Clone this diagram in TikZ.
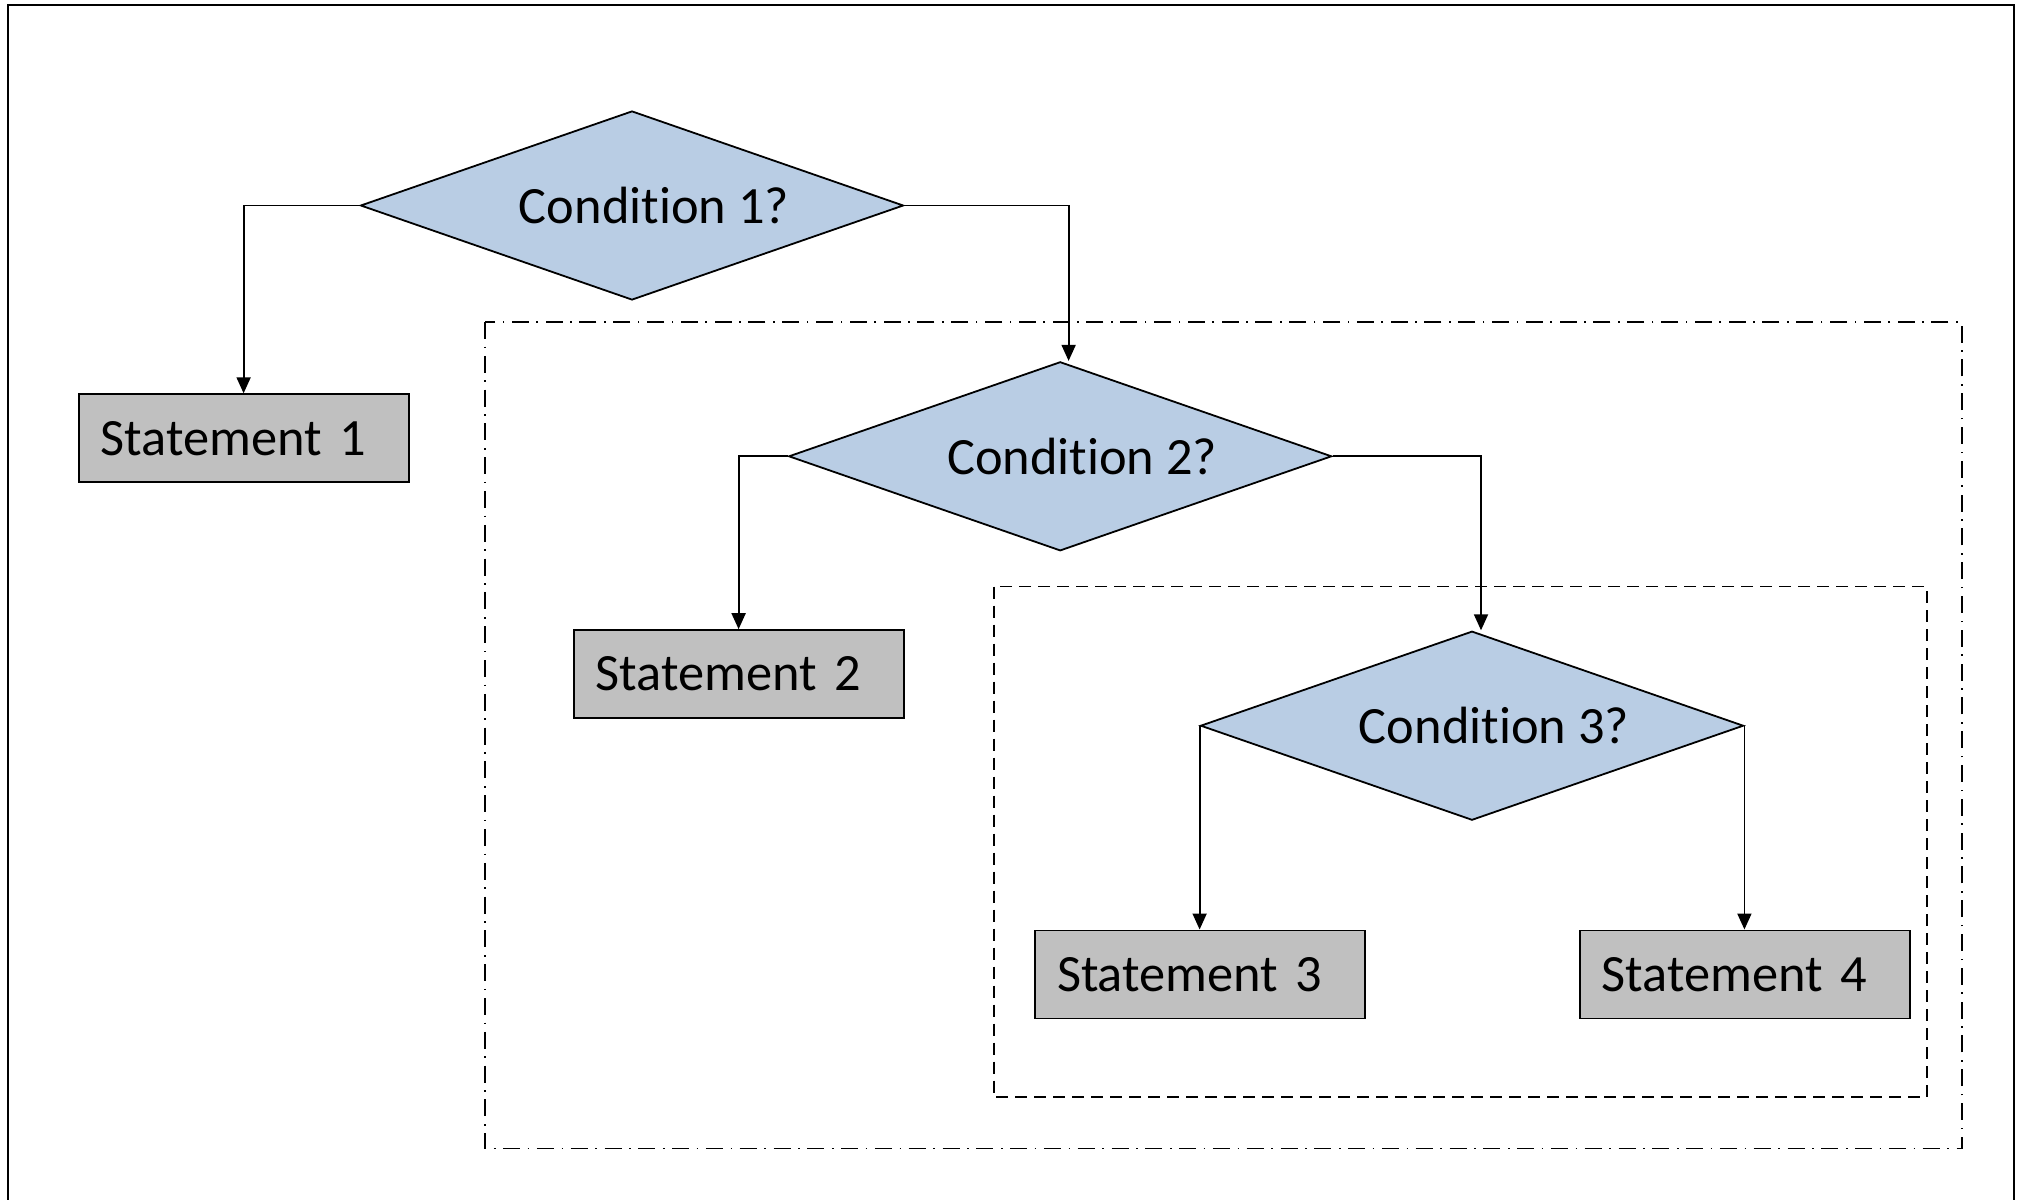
\documentclass[tikz,border=0pt]{standalone}
\usepackage{fontspec}
\setmainfont{Carlito}[Ligatures={NoCommon,NoContextual}]
\usetikzlibrary{shapes.geometric,arrows.meta}
\definecolor{decisionblue}{RGB}{185,205,228}
\definecolor{stmtgray}{RGB}{192,192,192}
\begin{document}
\begin{tikzpicture}[x=0.5pt,y=-0.5pt,
  labelfont/.style={font=\fontsize{26.2}{31}\selectfont},
  decision/.style={diamond, draw, line width=0.9pt, fill=decisionblue,
    minimum width=271.5pt, minimum height=94.5pt, inner sep=0pt},
  decisiontext/.style={labelfont, xshift=11pt},
  stmtbox/.style={draw, line width=0.9pt, fill=stmtgray, labelfont,
    text width=143pt, inner xsep=11pt, minimum height=44pt, align=left},
  flow/.style={line width=0.9pt, -{Triangle[length=8pt,width=7pt]}},
  outerscope/.style={line width=0.9pt, dash pattern=on 8.5pt off 3.8pt on 0.8pt off 3.8pt},
  innerscope/.style={line width=0.9pt, dash pattern=on 6pt off 3.5pt},
]
\useasboundingbox (0,0) rectangle (2021,1199);

% page frame (open at the bottom)
\draw[line width=1pt] (8,1205) -- (8,5) -- (2014,5) -- (2014,1205);

% nested scopes of the inner branches
\draw[outerscope] (484.6,322) rectangle (1961.7,1148.5);
\draw[innerscope] (993.8,586.5) rectangle (1927,1097);

% decisions
\node[decision, label={[decisiontext]center:Condition 1?}] (c1) at (632,205.5) {};
\node[decision, label={[decisiontext]center:Condition 2?}] (c2) at (1060.2,456.3) {};
\node[decision, label={[decisiontext]center:Condition 3?}] (c3) at (1472,725.7) {};

% statements
\node[stmtbox] (s1) at (243.6,438.2) {Statement 1};
\node[stmtbox] (s2) at (738.6,674.1) {Statement 2};
\node[stmtbox] (s3) at (1200,974.4) {Statement 3};
\node[stmtbox] (s4) at (1744.6,974.4) {Statement 4};

% branches
\draw[flow] (c1.west) -| (s1.north);
\draw[flow] (c1.east) -| ([xshift=4.2pt]c2.north);
\draw[flow] (c2.west) -| (s2.north);
\draw[flow] (c2.east) -| ([xshift=4.5pt]c3.north);
\draw[flow] (c3.west) -- (c3.west |- s3.north);
\draw[flow] (c3.east) -- (c3.east |- s4.north);
\end{tikzpicture}
\end{document}
